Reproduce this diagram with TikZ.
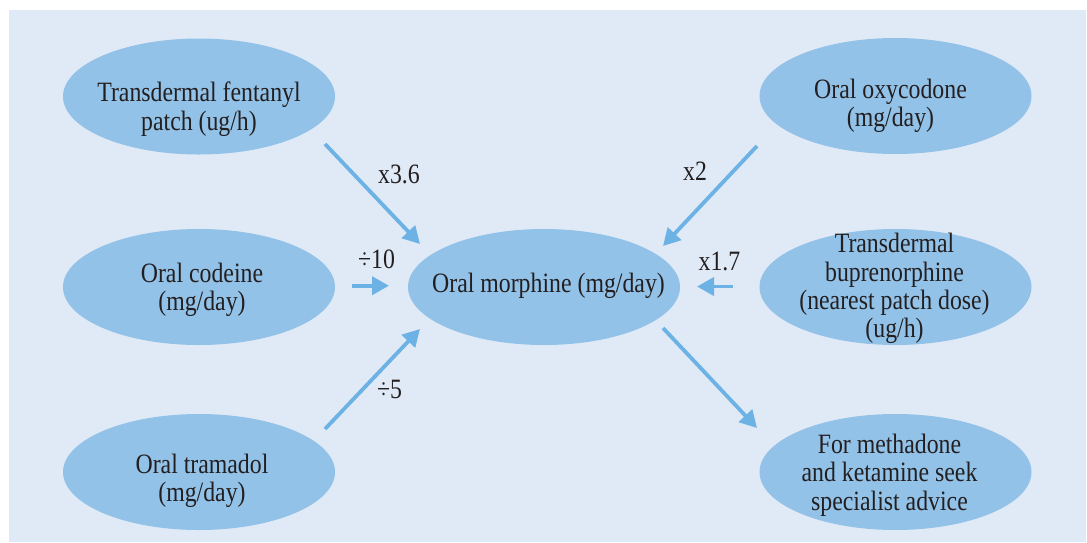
\documentclass[tikz,border=0pt]{standalone}
\usepackage{fontspec}
\setmainfont{Liberation Serif}[FakeStretch=0.85]
\usetikzlibrary{shapes.geometric,arrows.meta}
\definecolor{panelbg}{HTML}{E0EAF6}
\definecolor{bubble}{HTML}{93C2E8}
\definecolor{flow}{HTML}{6CB2E4}
\definecolor{ink}{HTML}{231F20}
\newcommand{\capline}[1]{\strut#1}
\tikzset{
  drug/.style={ellipse, fill=bubble, minimum width=272pt, minimum height=116pt,
    inner sep=0pt},
  drugtext/.style={align=center, text=ink, inner sep=0pt,
    font=\fontsize{28}{26.5}\selectfont},
  conv/.style={draw=flow, line width=3.8pt,
    -{Triangle[length=17pt,width=18pt]}},
  factor/.style={text=ink, font=\fontsize{28}{26.5}\selectfont, inner sep=0pt,
    anchor=base}
}
\begin{document}
\begin{tikzpicture}[x=1pt,y=-1pt]
\useasboundingbox (0,0) rectangle (1087,542);
\fill[white] (0,0) rectangle (1087,542);
\fill[panelbg] (9,10) rectangle (1086,542);

% ellipses
\node[drug] (fent)  at (199,96.5) {};
\node[drug] (cod)   at (199,287) {};
\node[drug] (tram)  at (199,472) {};
\node[drug] (morph) at (544,287) {};
\node[drug] (oxy)   at (895.5,96) {};
\node[drug] (bup)   at (895.5,287) {};
\node[drug] (meth)  at (895.5,472) {};

% ellipse captions
\node[drugtext] (fent-t)  at (199,110)   {\capline{Transdermal fentanyl}\\\capline{patch (ug/h)}};
\node[drugtext] (cod-t)   at (202,291)   {\capline{Oral codeine}\\\capline{(mg/day)}};
\node[drugtext] (tram-t)  at (202,482)   {\capline{Oral tramadol}\\\capline{(mg/day)}};
\node[drugtext] (morph-t) at (548.5,286.7) {\capline{Oral morphine (mg/day)}};
\node[drugtext] (oxy-t)   at (890.5,107) {\capline{Oral oxycodone}\\\capline{(mg/day)}};
\node[drugtext] (bup-t)   at (894.5,289.5) {\capline{Transdermal}\\\capline{buprenorphine}\\\capline{(nearest patch dose)}\\\capline{(ug/h)}};
\node[drugtext] (meth-t)  at (889.5,476.2) {\capline{For methadone}\\\capline{and ketamine seek}\\\capline{specialist advice}};

% arrow end points
\coordinate (fentS) at (325,144);  \coordinate (fentE) at (420,244);
\coordinate (codS)  at (352,285.7); \coordinate (codE) at (389,285.7);
\coordinate (tramS) at (325,429);  \coordinate (tramE) at (420,329);
\coordinate (oxyS)  at (757,146);  \coordinate (oxyE)  at (663,246);
\coordinate (bupS)  at (733,286.5); \coordinate (bupE) at (697,286.5);
\coordinate (morS)  at (663,328);  \coordinate (morE)  at (757,428);

\draw[conv] (fentS) -- (fentE);
\draw[conv] (codS) -- (codE);
\draw[conv] (tramS) -- (tramE);
\draw[conv] (oxyS) -- (oxyE);
\draw[conv] (bupS) -- (bupE);
\draw[conv] (morS) -- (morE);

% conversion factors
\node[factor] (f1) at (399,183) {x3.6};
\node[factor] (f2) at (376.5,268) {÷10};
\node[factor] (f3) at (389.5,398) {÷5};
\node[factor] (f4) at (695,180) {x2};
\node[factor] (f5) at (719.5,270) {x1.7};
\end{tikzpicture}
\end{document}
